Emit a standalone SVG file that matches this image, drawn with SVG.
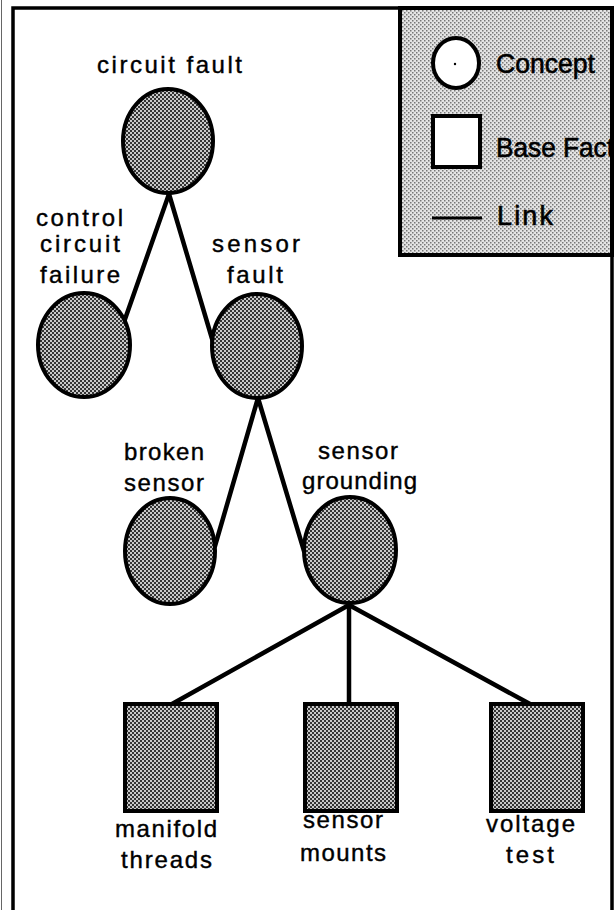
<svg xmlns="http://www.w3.org/2000/svg" width="615" height="910" viewBox="0 0 615 910">
  <style>
    .frame { fill: none; stroke: #000; stroke-width: 3.5; }
    .concept { fill: url(#dots); stroke: #000; stroke-width: 4; }
    .fact { fill: url(#dots); stroke: #000; stroke-width: 4; }
    .link { stroke: #000; stroke-width: 4.5; fill: none; stroke-linecap: round; }
    .label { font-family: "Liberation Sans", Arial, Helvetica, sans-serif; font-size: 24px; fill: #000; stroke: #000; stroke-width: 0.4; }
    .legend-text { font-family: "Liberation Sans", Arial, Helvetica, sans-serif; font-size: 27px; fill: #000; stroke: #000; stroke-width: 0.6; }
  </style>
  <defs>
    <!-- dense halftone used inside concept and fact symbols -->
    <pattern id="dots" width="4" height="4" patternUnits="userSpaceOnUse">
      <rect width="4" height="4" fill="#c8c8c8"/>
      <rect x="0" y="0" width="2" height="2" fill="#333"/>
      <rect x="2" y="2" width="2" height="2" fill="#333"/>
    </pattern>
    <!-- light halftone for the legend panel -->
    <pattern id="lightdots" width="4" height="4" patternUnits="userSpaceOnUse">
      <rect width="4" height="4" fill="#e4e4e4"/>
      <rect x="0" y="0" width="1.5" height="1.5" fill="#777"/>
      <rect x="2" y="2" width="1.5" height="1.5" fill="#777"/>
    </pattern>
    <clipPath id="legendClip">
      <rect x="400" y="8" width="212" height="247"/>
    </clipPath>
  </defs>

  <rect width="615" height="910" fill="#fff"/>

  <!-- outer frame (open at the bottom) -->
  <g id="frame">
    <line x1="1.5" y1="0" x2="1.5" y2="910" stroke="#666" stroke-width="1"/>
    <path class="frame" d="M13,910 V8 H612 V910"/>
  </g>

  <!-- legend -->
  <g id="legend">
    <rect x="400" y="8" width="212" height="247" fill="url(#lightdots)" stroke="#000" stroke-width="4"/>
    <g clip-path="url(#legendClip)">
      <ellipse cx="456" cy="63" rx="23" ry="25" fill="#fff" stroke="#000" stroke-width="4"/>
      <circle cx="455" cy="64" r="1.2" fill="#000"/>
      <text class="legend-text" x="496" y="73" textLength="99" lengthAdjust="spacingAndGlyphs">Concept</text>
      <rect x="433" y="116" width="47" height="51" fill="#fff" stroke="#000" stroke-width="4"/>
      <text class="legend-text" x="496" y="157" textLength="118" lengthAdjust="spacingAndGlyphs">Base Fact</text>
      <line x1="432" y1="218" x2="482" y2="218" stroke="#000" stroke-width="3"/>
      <text class="legend-text" x="497" y="225" textLength="56" lengthAdjust="spacing">Link</text>
    </g>
  </g>

  <!-- links -->
  <g id="connectors">
    <line class="link" x1="169" y1="194" x2="124" y2="322"/>
    <line class="link" x1="169" y1="194" x2="213" y2="342"/>
    <line class="link" x1="258" y1="398" x2="215" y2="546"/>
    <line class="link" x1="258" y1="398" x2="304" y2="551"/>
    <line class="link" x1="349" y1="605" x2="172" y2="704"/>
    <line class="link" x1="349" y1="605" x2="349" y2="704"/>
    <line class="link" x1="349" y1="605" x2="530" y2="704"/>
  </g>

  <!-- concepts -->
  <g id="circuit-fault">
    <ellipse class="concept" cx="168" cy="141" rx="45" ry="52"/>
    <text class="label" x="97" y="73" textLength="145" lengthAdjust="spacing">circuit  fault</text>
  </g>
  <g id="control-circuit-failure">
    <ellipse class="concept" cx="84" cy="345" rx="46" ry="52"/>
    <text class="label" x="36" y="226" textLength="87" lengthAdjust="spacing">control</text>
    <text class="label" x="40" y="252" textLength="80" lengthAdjust="spacing">circuit</text>
    <text class="label" x="40" y="283" textLength="80" lengthAdjust="spacing">failure</text>
  </g>
  <g id="sensor-fault">
    <ellipse class="concept" cx="257" cy="346" rx="45" ry="52"/>
    <text class="label" x="212" y="252" textLength="88" lengthAdjust="spacing">sensor</text>
    <text class="label" x="227" y="283" textLength="56" lengthAdjust="spacing">fault</text>
  </g>
  <g id="broken-sensor">
    <ellipse class="concept" cx="170" cy="551" rx="45" ry="53"/>
    <text class="label" x="124" y="460" textLength="80" lengthAdjust="spacing">broken</text>
    <text class="label" x="124" y="491" textLength="80" lengthAdjust="spacing">sensor</text>
  </g>
  <g id="sensor-grounding">
    <ellipse class="concept" cx="350" cy="550" rx="46" ry="53"/>
    <text class="label" x="318" y="459" textLength="80" lengthAdjust="spacing">sensor</text>
    <text class="label" x="302" y="489" textLength="115" lengthAdjust="spacing">grounding</text>
  </g>

  <!-- base facts -->
  <g id="manifold-threads">
    <rect class="fact" x="125" y="704" width="92" height="107"/>
    <text class="label" x="115" y="837" textLength="102" lengthAdjust="spacing">manifold</text>
    <text class="label" x="121" y="868" textLength="91" lengthAdjust="spacing">threads</text>
  </g>
  <g id="sensor-mounts">
    <rect class="fact" x="305" y="704" width="92" height="107"/>
    <text class="label" x="303" y="828" textLength="80" lengthAdjust="spacing">sensor</text>
    <text class="label" x="300" y="861" textLength="86" lengthAdjust="spacing">mounts</text>
  </g>
  <g id="voltage-test">
    <rect class="fact" x="491" y="704" width="92" height="107"/>
    <text class="label" x="486" y="832" textLength="89" lengthAdjust="spacing">voltage</text>
    <text class="label" x="506" y="863" textLength="48" lengthAdjust="spacing">test</text>
  </g>
</svg>
